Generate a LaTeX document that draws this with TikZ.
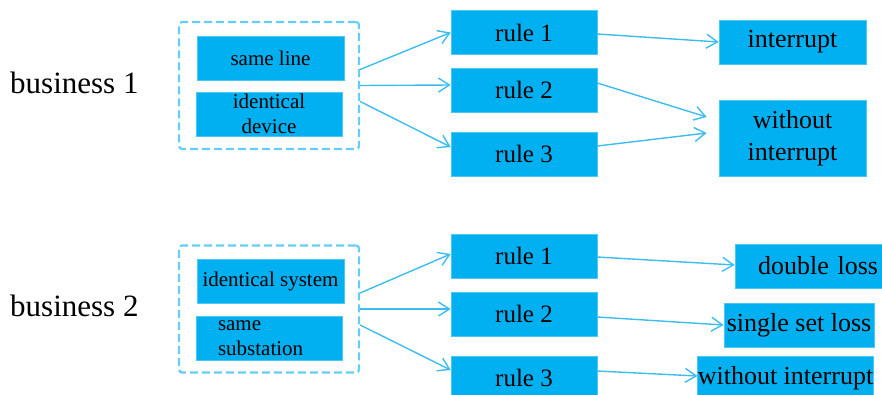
\documentclass[tikz,border=0pt]{standalone}
\usepackage{fontspec}
\setmainfont{Liberation Serif}
\usetikzlibrary{arrows.meta}
\definecolor{boxblue}{HTML}{00B0F0}
\definecolor{linkblue}{HTML}{3DBDEF}
\definecolor{dashblue}{HTML}{66CDF6}
\tikzset{
  box/.style={fill=boxblue, draw=boxblue!70!white, line width=0.6pt, inner sep=0pt, text=black},
  smallbox/.style={box, minimum width=147pt, minimum height=44pt, font=\fontsize{21}{25}\selectfont, align=center},
  rulebox/.style={box, minimum width=146pt, minimum height=44pt, font=\fontsize{25}{30}\selectfont},
  resbox/.style={box, font=\fontsize{26}{32}\selectfont, align=center},
  group/.style={draw=dashblue, line width=2.2pt, dash pattern=on 8pt off 4pt, rounded corners=3pt, minimum width=180pt, minimum height=127pt, inner sep=0pt},
  link/.style={draw=linkblue, line width=1.4pt, -{Straight Barb[length=11pt, width=14pt, line width=1.4pt]}},
  bizlabel/.style={font=\fontsize{31}{36}\selectfont, anchor=base west, inner sep=0pt}
}
\begin{document}
\begin{tikzpicture}[x=1pt, y=-1pt]
\useasboundingbox (0,0) rectangle (882,394);

% ---- business 1 ----
\node[bizlabel] (b1) at (10,93) {business 1};
\node[group] (g1) at (269,85.5) {};
\node[smallbox] (sl) at (270.5,58) {same line};
\node[smallbox, minimum width=146pt] (idv) at (269,114) {identical\\device};
\node[rulebox] (r11) at (524,32.5) {rule 1};
\node[rulebox] (r12) at (524,90) {rule 2};
\node[rulebox] (r13) at (524,154) {rule 3};
\node[resbox, minimum width=147pt, minimum height=44pt] (int1) at (792.5,42) {interrupt};
\node[resbox, minimum width=147pt, minimum height=76pt] (wi1) at (792.5,138) {without\\interrupt};

\draw[link] ([yshift=16pt]g1.east) -- (r11.west);
\draw[link] (g1.east) -- ([yshift=5pt]r12.west);
\draw[link] ([yshift=-16pt]g1.east) -- ([yshift=7pt]r13.west);
\draw[link] ([yshift=-1.5pt]r11.east) -- (int1.west);
\draw[link] ([yshift=7pt]r12.east) -- ([xshift=-12pt, yshift=21pt]wi1.west);
\draw[link] ([yshift=8pt]r13.east) -- ([xshift=-12pt, yshift=5pt]wi1.west);

% ---- business 2 ----
\node[bizlabel] (b2) at (10,316) {business 2};
\node[group] (g2) at (269,309) {};
\node[smallbox] (ids) at (270.5,281) {identical system};
\node[smallbox, minimum width=146pt, align=left, text width=102pt, inner xsep=22pt] (ssub) at (269,338) {same\\substation};
\node[rulebox] (r21) at (524,256) {rule 1};
\node[rulebox] (r22) at (524,314) {rule 2};
\node[rulebox] (r23) at (524,378) {rule 3};
\node[resbox, minimum width=147pt, minimum height=44pt, text width=139pt, align=right, inner xsep=4pt] (dl) at (808.5,266) {double loss};
\node[resbox, minimum width=150pt, minimum height=44pt] (ssl) at (799,325) {single set loss};
\node[resbox, minimum width=175pt, minimum height=44pt] (wi2) at (785.5,378) {without interrupt};

\draw[link] ([yshift=16pt]g2.east) -- ([yshift=2pt]r21.west);
\draw[link] (g2.east) -- ([yshift=5pt]r22.west);
\draw[link] ([yshift=-16pt]g2.east) -- ([yshift=8pt]r23.west);
\draw[link] ([yshift=-1pt]r21.east) -- ([yshift=1pt]dl.west);
\draw[link] ([yshift=-3pt]r22.east) -- (ssl.west);
\draw[link] ([yshift=7pt]r23.east) -- ([yshift=2pt]wi2.west);
\end{tikzpicture}
\end{document}
